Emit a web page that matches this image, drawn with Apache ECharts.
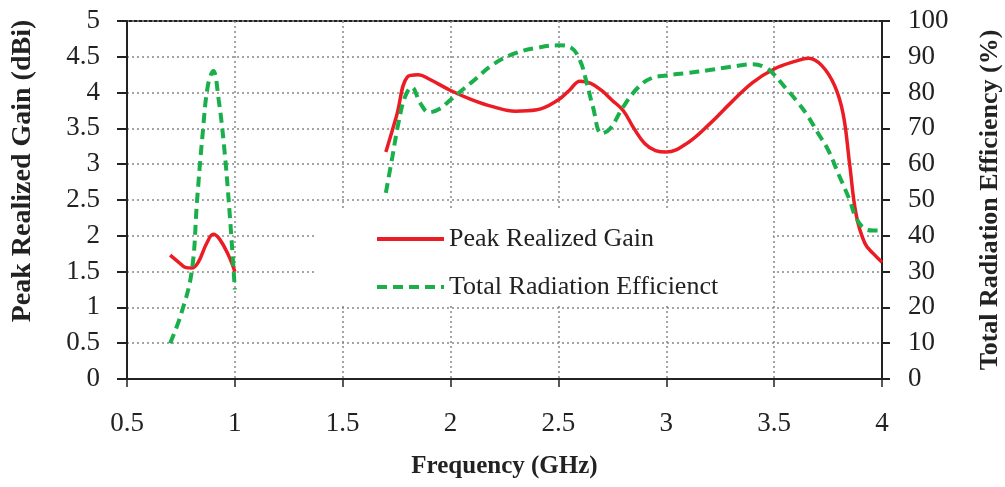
<!DOCTYPE html>
<html>
<head>
<meta charset="utf-8">
<script src="https://cdn.jsdelivr.net/npm/echarts@6/dist/echarts.min.js"></script>
<style>html,body{margin:0;padding:0;background:#fff;}#c{width:1005px;height:487px;}</style>
</head>
<body>
<div id="c"></div>
<script>
// Frequency (GHz) / Peak realized gain (dBi), low band
const gainLow = [[0.7,1.73],[0.74,1.63],[0.77,1.56],[0.8,1.55],[0.83,1.63],[0.87,1.9],[0.9,2.02],[0.93,1.95],[0.97,1.73],[1.0,1.5]];
// High band gain
const gainHigh = [[1.7,3.17],[1.75,3.68],[1.8,4.22],[1.85,4.25],[1.9,4.19],[2.0,4.03],[2.1,3.9],[2.2,3.8],[2.3,3.74],[2.4,3.76],[2.5,3.9],[2.55,4.03],[2.6,4.16],[2.65,4.13],[2.7,4.03],[2.75,3.89],[2.8,3.75],[2.85,3.5],[2.9,3.29],[2.95,3.19],[3.0,3.17],[3.1,3.3],[3.2,3.56],[3.3,3.86],[3.4,4.14],[3.5,4.33],[3.6,4.44],[3.66,4.48],[3.72,4.38],[3.78,4.1],[3.82,3.7],[3.85,3.0],[3.88,2.3],[3.92,1.9],[3.96,1.75],[4.0,1.63]];
// Total radiation efficiency (%), low band
const effLow = [[0.7,10],[0.75,18],[0.8,30],[0.825,50],[0.85,68],[0.875,82],[0.9,86],[0.925,78],[0.95,65],[0.975,47],[1.0,25]];
// High band efficiency
const effHigh = [[1.7,52],[1.73,62],[1.76,72],[1.79,79],[1.82,81.5],[1.86,77],[1.9,74.5],[1.95,75.5],[2.0,78],[2.1,83],[2.2,88],[2.3,91],[2.4,92.5],[2.5,93.2],[2.56,92.5],[2.6,89],[2.63,83],[2.66,76],[2.7,68.6],[2.74,70],[2.8,76],[2.87,81.5],[2.93,84],[3.0,84.8],[3.1,85.5],[3.2,86.3],[3.3,87.2],[3.4,87.9],[3.46,87],[3.5,85],[3.55,81.5],[3.6,78],[3.65,74],[3.7,69],[3.75,64],[3.8,57],[3.85,50],[3.88,45],[3.92,42],[3.96,41.5],[4.0,41.5]];

const nameGain = 'Peak Realized Gain';
const nameEff = 'Total Radiation Efficienct';
const FONT = '"Liberation Serif", "Times New Roman", serif';
const RED = '#ec1c24', GREEN = '#19b04b';

const chart = echarts.init(document.getElementById('c'));
const axisTxt = {fontFamily: FONT, fontSize: 27, color: '#222'};
const nameTxt = {fontFamily: FONT, fontSize: 25, fontWeight: 'bold', color: '#222'};
const redLine = {color: RED, width: 3.5};
const greenLine = {color: GREEN, width: 4, type: [10, 6]};
chart.setOption({
  animation: false,
  grid: {left: 127, right: 123, top: 21, bottom: 108, outerBoundsMode: 'none', containLabel: false, show: true, borderColor: '#222', borderWidth: 2, backgroundColor: 'transparent'},
  graphic: [{type: 'rect', z: 1, shape: {x: 317, y: 210, width: 456, height: 95}, style: {fill: '#fff'}}],
  legend: {
    orient: 'vertical', left: 370, top: 221, itemWidth: 67, itemHeight: 14, itemGap: 22,
    textStyle: {fontFamily: FONT, fontSize: 26, color: '#222', lineHeight: 26},
    itemStyle: {opacity: 0},
    data: [
      {name: nameGain, lineStyle: {color: RED, width: 4}},
      {name: nameEff, lineStyle: {color: GREEN, width: 4, type: [10, 6]}}
    ]
  },
  xAxis: {
    type: 'value', min: 0.5, max: 4, interval: 0.5,
    name: 'Frequency (GHz)', nameLocation: 'middle', nameGap: 75, nameTextStyle: nameTxt,
    axisLine: {lineStyle: {color: '#222', width: 2}},
    axisTick: {show: true, inside: false, length: 8, lineStyle: {color: '#222', width: 1.5}},
    axisLabel: Object.assign({margin: 31}, axisTxt),
    splitLine: {show: true, lineStyle: {color: '#888', width: 1.5, type: [2, 3]}}
  },
  yAxis: [{
    type: 'value', min: 0, max: 5, interval: 0.5, position: 'left',
    name: 'Peak Realized Gain (dBi)', nameLocation: 'middle', nameGap: 90, nameRotate: 90,
    nameTextStyle: Object.assign({}, nameTxt, {fontSize: 28, padding: [0, 0, 0, 58]}),
    axisLine: {show: true, lineStyle: {color: '#222', width: 2}},
    axisTick: {show: true, inside: false, length: 10, lineStyle: {color: '#222', width: 2}},
    axisLabel: Object.assign({margin: 27}, axisTxt),
    splitLine: {show: true, lineStyle: {color: '#888', width: 1.5, type: [2, 3]}}
  }, {
    type: 'value', min: 0, max: 100, interval: 10, position: 'right',
    name: 'Total Radiation Efficiency (%)', nameLocation: 'middle', nameGap: 95, nameRotate: 90,
    nameTextStyle: Object.assign({}, nameTxt, {fontSize: 26}),
    axisLine: {show: true, lineStyle: {color: '#222', width: 2}},
    axisTick: {show: true, inside: false, length: 8, lineStyle: {color: '#222', width: 2}},
    axisLabel: Object.assign({margin: 26}, axisTxt),
    splitLine: {show: false}
  }],
  series: [
    {name: nameGain, type: 'line', yAxisIndex: 0, data: gainLow, smooth: 0.4, symbol: 'none', lineStyle: redLine, itemStyle: {color: RED}, z: 3},
    {name: nameGain, type: 'line', yAxisIndex: 0, data: gainHigh, smooth: 0.4, symbol: 'none', lineStyle: redLine, itemStyle: {color: RED}, z: 3},
    {name: nameEff, type: 'line', yAxisIndex: 1, data: effLow, smooth: 0.4, symbol: 'none', lineStyle: greenLine, itemStyle: {color: GREEN}, z: 3},
    {name: nameEff, type: 'line', yAxisIndex: 1, data: effHigh, smooth: 0.4, symbol: 'none', lineStyle: greenLine, itemStyle: {color: GREEN}, z: 3}
  ]
});
</script>
</body>
</html>
